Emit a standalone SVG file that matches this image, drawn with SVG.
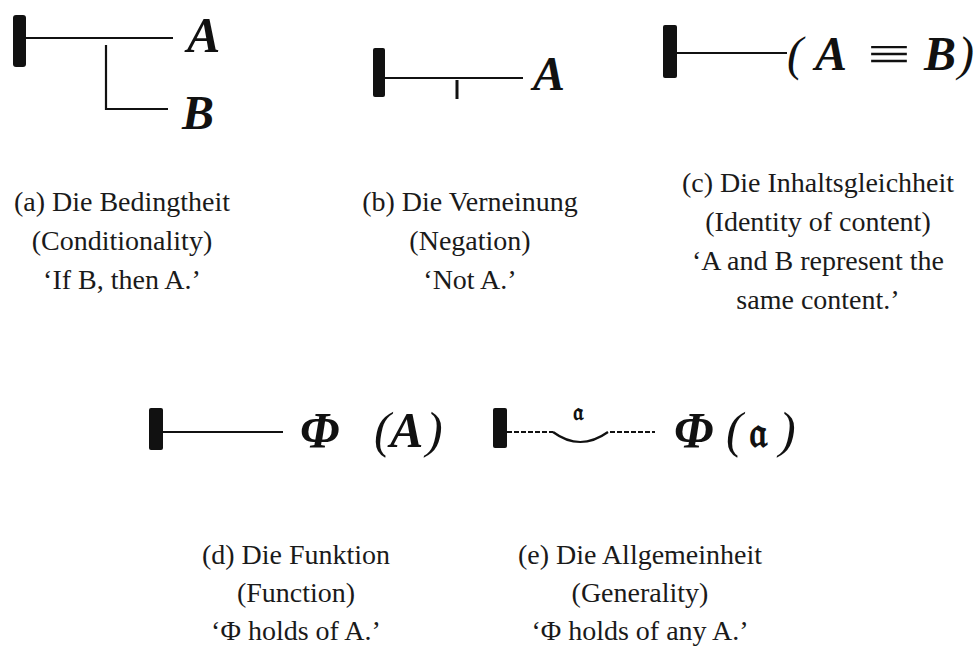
<svg xmlns="http://www.w3.org/2000/svg" width="978" height="655" viewBox="0 0 978 655">
<style>
.cap{font-family:"Liberation Serif","Times New Roman",serif;font-size:28px;fill:#1a1a1a;text-anchor:middle}
.sym{font-family:"Liberation Serif","Times New Roman",serif;font-weight:bold;font-style:italic;fill:#111}
.par{font-family:"Liberation Serif","Times New Roman",serif;font-style:italic;fill:#111}
.frak{font-family:"DejaVu Serif","DejaVu Sans","Noto Sans",serif;font-weight:bold;fill:#111}
.eq{font-family:"Liberation Serif","Times New Roman",serif;fill:#111}
.bar{fill:#111}
.ln{stroke:#111;stroke-width:2.2;fill:none}
.dash{stroke:#111;stroke-width:2;fill:none;stroke-dasharray:5 2}
</style>
<rect width="978" height="655" fill="#fff"/>

<g id="panel-a">
  <rect class="bar" x="13" y="15" width="13" height="52" rx="3"/>
  <text class="sym" x="187" y="52" font-size="50">A</text>
  <text class="sym" x="182" y="129" font-size="48">B</text>
</g>
<g id="panel-b">
  <rect class="bar" x="373" y="48" width="12" height="49" rx="2"/>
  <text class="sym" x="533" y="90" font-size="48">A</text>
</g>
<g id="panel-c">
  <rect class="bar" x="663" y="25" width="14" height="53" rx="2"/>
  <text y="70" font-size="48"><tspan class="par" x="787">(</tspan><tspan class="sym" x="815">A</tspan></text>
  <text class="eq" font-size="48" transform="translate(867,70) scale(1.6,1)">≡</text>
  <text y="70" font-size="48"><tspan class="sym" x="924">B</tspan><tspan class="par" x="958">)</tspan></text>
</g>
<g id="panel-d">
  <rect class="bar" x="149" y="408" width="14" height="42" rx="2"/>
  <text y="447" font-size="50"><tspan class="sym" x="300">Φ</tspan><tspan class="par" x="374">(</tspan><tspan class="sym" x="390">A</tspan><tspan class="par" x="426">)</tspan></text>
</g>
<g id="panel-e">
  <rect class="bar" x="493" y="408" width="14" height="40" rx="2"/>
  <text class="frak" x="578" y="420" font-size="24" text-anchor="middle">𝔞</text>
  <text y="447" font-size="50"><tspan class="sym" x="674">Φ</tspan><tspan class="par" x="726">(</tspan><tspan class="frak" font-size="42" x="749">𝔞</tspan><tspan class="par" x="779">)</tspan></text>
</g>

<g id="connectors">
  <line class="ln" x1="26" y1="38" x2="173" y2="38"/>
  <path class="ln" d="M106 45 V109 H168"/>
  <line class="ln" x1="385" y1="78" x2="523" y2="78"/>
  <line stroke="#111" stroke-width="3" x1="457" y1="80" x2="457" y2="99"/>
  <line class="ln" x1="677" y1="53" x2="787" y2="53"/>
  <line class="ln" x1="163" y1="432" x2="283" y2="432"/>
  <line class="dash" x1="507" y1="432" x2="553" y2="432"/>
  <path class="ln" d="M553 432 Q580 452 608 432"/>
  <line class="dash" x1="610" y1="432" x2="655" y2="432"/>
</g>

<g id="caption-a" class="cap">
  <text x="122" y="211">(a) Die Bedingtheit</text>
  <text x="122" y="250">(Conditionality)</text>
  <text x="122" y="289">‘If B, then A.’</text>
</g>
<g id="caption-b" class="cap">
  <text x="470" y="211">(b) Die Verneinung</text>
  <text x="470" y="250">(Negation)</text>
  <text x="470" y="289">‘Not A.’</text>
</g>
<g id="caption-c" class="cap">
  <text x="818" y="191.5">(c) Die Inhaltsgleichheit</text>
  <text x="818" y="230.5">(Identity of content)</text>
  <text x="818" y="269.5">‘A and B represent the</text>
  <text x="818" y="308.5">same content.’</text>
</g>
<g id="caption-d" class="cap">
  <text x="296" y="564">(d) Die Funktion</text>
  <text x="296" y="602">(Function)</text>
  <text x="296" y="640">‘Φ holds of A.’</text>
</g>
<g id="caption-e" class="cap">
  <text x="640" y="564">(e) Die Allgemeinheit</text>
  <text x="640" y="602">(Generality)</text>
  <text x="640" y="640">‘Φ holds of any A.’</text>
</g>
</svg>
